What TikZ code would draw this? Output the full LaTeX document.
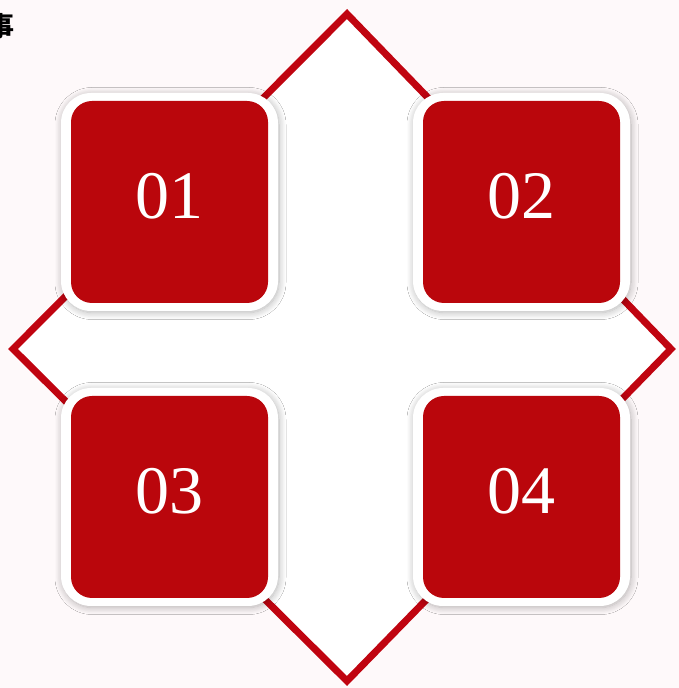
\documentclass[tikz,border=0pt]{standalone}
\usepackage{fontspec}
\newfontfamily\cjk{Noto Sans CJK SC}
\newfontfamily\cardfont{Liberation Serif}
\usepackage{tikz}
\usetikzlibrary{shadows.blur,backgrounds}
\definecolor{cardred}{RGB}{186,6,12}
\definecolor{edgered}{RGB}{192,4,16}
\definecolor{pagepink}{RGB}{254,249,250}
\tikzset{
  diamondline/.style={draw=edgered, fill=white, line width=7pt, line join=miter},
  cardframe/.style={rectangle, fill=white, rounded corners=30pt, inner sep=0pt,
                    minimum width=217pt, minimum height=218pt,
                    blur shadow={shadow xshift=1pt, shadow yshift=-1.5pt,
                                 shadow blur radius=7pt, shadow opacity=30,
                                 shadow blur steps=12}},
  card/.style={rectangle, fill=cardred, rounded corners=21pt, inner sep=0pt,
               minimum width=197pt, minimum height=202pt, text=white, text depth=12pt,
               font=\cardfont\fontsize{68}{68}\selectfont},
  cornerchar/.style={inner sep=0pt, font=\cjk\fontsize{27}{27}\selectfont},
}
\begin{document}
\begin{tikzpicture}[x=1pt, y=1pt]
  \useasboundingbox[fill=pagepink] (0,0) rectangle (679,688);
  % outer diamond
  \coordinate (top) at (347,674); \coordinate (right) at (671,339);
  \coordinate (bottom) at (347,7); \coordinate (left) at (13,339);
  \draw[diamondline] (top) -- (right) -- (bottom) -- (left) -- cycle;
  \node[cornerchar] (corner) at (1,662) {\textbf{事}};
  % four cards
  \foreach \n/\x/\y in {01/169.5/486, 02/521.5/486, 03/169.5/191, 04/521.5/191} {
    \node[cardframe] (frame\n) at (\x,\y) {};
    \node[card] (card\n) at (frame\n.center) {\n};
  }
\end{tikzpicture}
\end{document}
